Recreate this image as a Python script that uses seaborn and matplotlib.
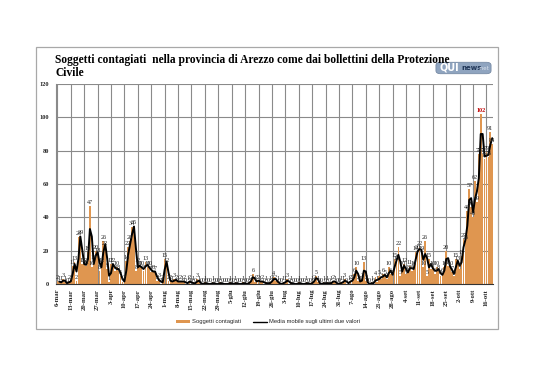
import numpy as np
import pandas as pd
import matplotlib
matplotlib.use("Agg")
import matplotlib.pyplot as plt
import seaborn as sns
from matplotlib.patches import Rectangle, FancyBboxPatch, Patch
from matplotlib.lines import Line2D

# ---------------- data ----------------
start_date = "2020-03-06"
month_abbr = ["gen", "feb", "mar", "apr", "mag", "giu", "lug", "ago", "set", "ott", "nov", "dic"]

cases = [
    2, 1, 1, 3, 1, 0, 2,          # 6-mar
    1, 11, 13, 2, 28, 29, 12,     # 13-mar
    12, 11, 19, 47, 10, 14, 20,   # 20-mar
    18, 8, 12, 26, 22, 9, 1,      # 27-mar
    12, 12, 8, 10, 8, 5, 1,       # 3-apr
    2, 14, 22, 26, 34, 35, 8,     # 10-apr
    12, 10, 10, 8, 13, 10, 10,    # 17-apr
    7, 8, 7, 2, 3, 0, 2,          # 24-apr
    15, 12, 2, 2, 1, 3, 2,        # 1-mag
    1, 2, 1, 2, 0, 1, 2,          # 8-mag
    0, 1, 0, 3, 1, 0, 0,          # 15-mag
    1, 0, 0, 0, 1, 0, 0,          # 22-mag
    0, 1, 0, 0, 0, 0, 1,          # 29-mag
    0, 0, 1, 0, 0, 0, 1,          # 5-giu
    0, 0, 1, 2, 6, 1, 2,          # 12-giu
    2, 1, 2, 0, 1, 0, 1,          # 19-giu
    2, 4, 2, 1, 0, 0, 1,          # 26-giu
    1, 3, 0, 1, 0, 0, 0,          # 3-lug
    1, 0, 0, 0, 1, 0, 0,          # 10-lug
    1, 2, 5, 1, 0, 0, 1,          # 17-lug
    0, 1, 0, 1, 2, 1, 0,          # 24-lug
    0, 1, 1, 3, 0, 1, 2,          # 31-lug
    2, 6, 10, 2, 1, 3, 13,        # 7-ago
    2, 0, 0, 1, 0, 4, 1,          # 14-ago
    5, 3, 6, 5, 3, 10, 6,         # 21-ago
    5, 15, 13, 22, 5, 10, 12,     # 28-ago
    6, 8, 11, 8, 10, 19, 20,      # 4-set
    22, 19, 10, 26, 5, 15, 9,     # 11-set
    10, 6, 10, 8, 5, 6, 10,       # 18-set
    20, 11, 10, 7, 5, 15, 13,     # 25-set
    9, 17, 27, 26, 44, 57, 46,    # 2-ott
    40, 62, 49, 78, 102, 78, 75,  # 9-ott
    79, 76, 91, 84,               # 16-ott
]

series_bar = "Soggetti contagiati"
series_line = "Media mobile sugli ultimi due valori"
title_text = ("Soggetti contagiati  nella provincia di Arezzo come dai bollettini della Protezione\n"
              "Civile")
y_ticks = [0, 20, 40, 60, 80, 100, 120]

# ---------------- frame ----------------
dates = pd.date_range(start_date, periods=len(cases), freq="D")
df = pd.DataFrame({"idx": np.arange(len(cases)), "date": dates, "cases": cases})
df["ma"] = df["cases"].rolling(2).mean()

bar_color = "#DF9650"

sns.set_theme(style="white")
plt.rcParams["font.family"] = ["Liberation Serif", "DejaVu Serif"]

W, H = 538, 380
fig = plt.figure(figsize=(W / 100, H / 100), dpi=100)
fig.patch.set_facecolor("white")

# outer chart border
fig.patches.append(Rectangle((36 / W, 1 - 329 / H), (498 - 36) / W, (329 - 47) / H,
                             transform=fig.transFigure, fill=False, ec="#a8a8a8", lw=0.9))

ax = fig.add_axes([56 / W, 1 - 284 / H, (493 - 56) / W, 200 / H])

sns.barplot(data=df, x="idx", y="cases", native_scale=True, color=bar_color,
            saturation=1, width=0.88, edgecolor="none", linewidth=0, ax=ax)
sns.lineplot(data=df, x="idx", y="ma", color="black", lw=1.4, ax=ax)

ax.set_xlim(-0.7, len(cases) - 0.6)
ax.set_ylim(0, 120)
ax.set_yticks(y_ticks)
ax.set_yticklabels([str(t) for t in y_ticks], fontsize=4.6, fontweight="bold")

tick_pos = list(range(0, len(cases), 7))
tick_lab = [f"{dates[i].day}-{month_abbr[dates[i].month - 1]}" for i in tick_pos]
ax.set_xticks(tick_pos)
ax.set_xticklabels(tick_lab, rotation=90, fontsize=4.8, fontweight="bold")
ax.tick_params(axis="x", length=2, width=0.6, pad=1.5, color="#555555")
ax.tick_params(axis="y", length=0, pad=5)

ax.grid(True, color="#8a8a8a", lw=0.8)
ax.set_axisbelow(True)
for s in ["top", "right"]:
    ax.spines[s].set_visible(False)
ax.spines["left"].set_color("#8a8a8a")
ax.spines["left"].set_linewidth(0.8)
ax.spines["bottom"].set_color("#333333")
ax.spines["bottom"].set_linewidth(0.8)
ax.set_xlabel("")
ax.set_ylabel("")
ax.set_facecolor("white")

vmax = max(cases)
for i, v in enumerate(cases):
    is_max = v == vmax
    ax.annotate(str(v), (i, v), xytext=(0, 0.8), textcoords="offset points",
                ha="center", va="bottom", fontsize=4.4,
                color="#C00000" if is_max else "#222222",
                fontweight="bold" if is_max else "normal")

# title
fig.text(55 / W, 1 - 54 / H, title_text, fontsize=8.3, fontweight="bold",
         ha="left", va="top", linespacing=1.15, color="black")

# logo
fig.patches.append(FancyBboxPatch((437 / W, 1 - 73 / H), 53 / W, 10 / H,
                                  boxstyle="round,pad=0.002,rounding_size=0.008",
                                  transform=fig.transFigure, fc="#8fa4bf", ec="#6f839e", lw=0.5))
fig.text(440 / W, 1 - 68 / H, "QUI", fontsize=7, fontweight="bold", color="white",
         family="DejaVu Sans", ha="left", va="center")
fig.text(461 / W, 1 - 68.5 / H, "news", fontsize=5, fontweight="bold", color="#1f3557",
         family="DejaVu Sans", ha="left", va="center")
fig.text(478 / W, 1 - 68.5 / H, ".net", fontsize=4, color="#dde4ee",
         family="DejaVu Sans", ha="left", va="center")

# legend
handles = [Patch(fc=bar_color, ec="none"), Line2D([], [], color="black", lw=1)]
fig.legend(handles, [series_bar, series_line], loc="center",
           bbox_to_anchor=(268 / W, 1 - 322 / H), ncol=2, frameon=False,
           prop={"family": "Liberation Sans", "size": 4.2},
           handlelength=2.4, handleheight=0.6, handletextpad=0.3, columnspacing=2.0)

fig.savefig("out.png", dpi=100, facecolor="white")
